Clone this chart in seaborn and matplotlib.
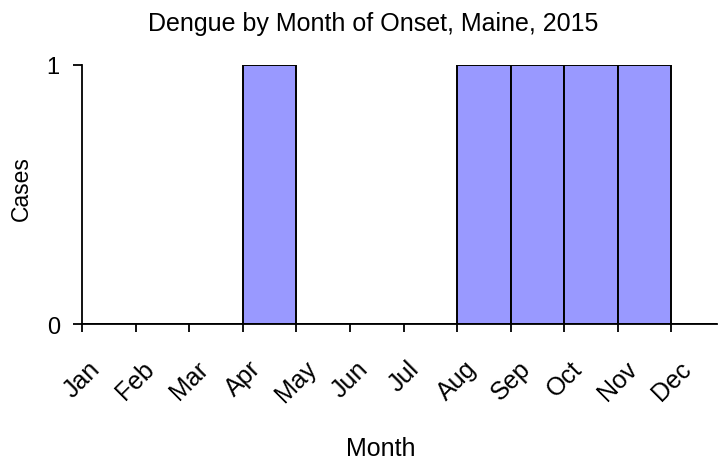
import numpy as np
import pandas as pd
import matplotlib
matplotlib.use("Agg")
import matplotlib.pyplot as plt
import seaborn as sns

# data
months = ["Jan", "Feb", "Mar", "Apr", "May", "Jun",
          "Jul", "Aug", "Sep", "Oct", "Nov", "Dec"]
cases = [0, 0, 0, 1, 0, 0, 0, 1, 1, 1, 1, 0]
y_ticks = [0, 1]

sns.set_style("ticks")
plt.rcParams["font.family"] = ["Liberation Sans", "DejaVu Sans"]
plt.rcParams["text.color"] = "black"
plt.rcParams["xtick.color"] = "black"
plt.rcParams["ytick.color"] = "black"

fig = plt.figure(figsize=(7.18, 4.6), dpi=100)
ax = fig.add_axes([82 / 718, 1 - 325 / 460, (717 - 82) / 718, (325 - 66) / 460])

df = pd.DataFrame({"month": np.arange(len(months)), "cases": cases})
sns.histplot(data=df, x="month", weights="cases", bins=len(months),
             binrange=(0, len(months)),
             color="#9999FF", alpha=1, edgecolor="black", linewidth=1.4, ax=ax)

ax.set_xlim(0, 11.85)
ax.set_ylim(0, 1)
ax.set_xticks(df["month"])
ax.set_xticklabels(months, rotation=45, ha="center", va="top", fontsize=18)
ax.set_yticks(y_ticks)
ax.set_yticklabels([str(t) for t in y_ticks], fontsize=17)
ax.tick_params(axis="x", length=6, width=1.3, pad=17)
ax.tick_params(axis="y", length=6.5, width=1.3, pad=9.5)
for s in ["left", "bottom"]:
    ax.spines[s].set_linewidth(1.3)
    ax.spines[s].set_color("black")
ax.spines["top"].set_visible(False)
ax.spines["right"].set_visible(False)
ax.set_xlabel("")
ax.set_ylabel("")

fig.text(373 / 718, 1 - 24 / 460, "Dengue by Month of Onset, Maine, 2015",
         ha="center", va="center", fontsize=18)
fig.text(21 / 718, 1 - 189 / 460, "Cases", rotation=90,
         ha="center", va="center", fontsize=16.5)
fig.text(381 / 718, 1 - 449 / 460, "Month", ha="center", va="center", fontsize=18)

fig.savefig("out.png", dpi=100)
